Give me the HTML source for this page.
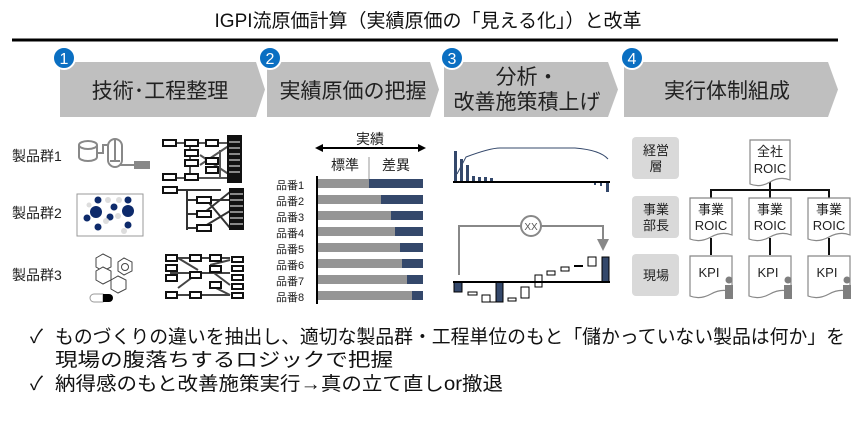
<!DOCTYPE html>
<html><head><meta charset="utf-8"><style>
html,body{margin:0;padding:0;background:#fff;}
svg{display:block;}
text{font-family:"Liberation Sans","Noto Sans CJK JP",sans-serif;}
</style></head><body>
<svg width="861" height="422" viewBox="0 0 861 422" xmlns="http://www.w3.org/2000/svg">
<text x="428" y="27" font-size="19" text-anchor="middle" fill="#111">IGPI流原価計算（実績原価の「見える化」）と改革</text>
<line x1="12" y1="40" x2="838" y2="40" stroke="#000" stroke-width="3"/>
<g fill="#bfbfbf">
<polygon points="60,62 256,62 265,89.5 256,117 60,117"/>
<polygon points="267,62 430,62 439,89.5 430,117 267,117"/>
<polygon points="444,62 608,62 618,89.5 608,117 444,117"/>
<polygon points="624,62 828,62 838,89.5 828,117 624,117"/>
</g>
<g fill="#0a6fc2" stroke="#fff" stroke-width="2">
<circle cx="64" cy="58" r="11"/><circle cx="270" cy="58" r="11"/><circle cx="452" cy="58" r="11"/><circle cx="632" cy="58" r="11"/>
</g>
<g fill="#fff" font-size="16" text-anchor="middle">
<text x="64" y="64">1</text><text x="270" y="64">2</text><text x="452" y="64">3</text><text x="632" y="64">4</text>
</g>
<g fill="#222" font-size="21" text-anchor="middle">
<text x="160" y="98">技術･工程整理</text>
<text x="353" y="98">実績原価の把握</text>
<text x="527" y="84">分析・</text>
<text x="527" y="109">改善施策積上げ</text>
<text x="727" y="98">実行体制組成</text>
</g>
<g font-size="14" fill="#222">
<text x="12" y="161">製品群1</text><text x="12" y="218">製品群2</text><text x="12" y="280">製品群3</text>
</g>
<g stroke="#888" stroke-width="2" fill="none">
<ellipse cx="88" cy="145" rx="9" ry="4"/><path d="M79 145v12a9 4 0 0 0 18 0v-12"/>
<path d="M97 153h6v-8h5"/><rect x="108" y="139" width="14" height="28" rx="7"/><line x1="115" y1="139" x2="115" y2="161"/><path d="M110 161h10"/>
<path d="M120 165h14"/></g>
<rect x="134" y="161" width="16" height="8" fill="#888"/>
<g stroke="#555" stroke-width="2" fill="none"><path d="M173 143h60M190 143v35M173 178h60M200 155l30 20M200 165l30-20M220 150v28"/></g>
<g stroke="#111" stroke-width="2" fill="#fff">
<rect x="163" y="140" width="13" height="6"/><rect x="185" y="140" width="13" height="6"/><rect x="206" y="140" width="12" height="6"/>
<rect x="185" y="150" width="13" height="6"/><rect x="185" y="160" width="13" height="6"/><rect x="206" y="158" width="12" height="6"/><rect x="206" y="167" width="12" height="6"/>
<rect x="163" y="174" width="13" height="6"/><rect x="185" y="174" width="13" height="6"/>
<rect x="228" y="136" width="13" height="46" fill="#111"/>
</g>
<g stroke="#fff" stroke-width="1"><path d="M229 142h11M229 148h11M229 154h11M229 160h11M229 166h11M229 172h11"/></g>
<rect x="77" y="194" width="66" height="42" fill="none" stroke="#999" stroke-width="1"/>
<g fill="#0d2a6b"><circle cx="98" cy="200" r="3.5"/><circle cx="96" cy="212" r="6"/><circle cx="87" cy="218" r="3.5"/><circle cx="114" cy="207" r="3.5"/><circle cx="128" cy="200" r="3.5"/><circle cx="128" cy="211" r="6"/><circle cx="110" cy="217" r="3.5"/><circle cx="98" cy="227" r="3.5"/><circle cx="128" cy="225" r="3.5"/></g>
<g fill="#ddd"><circle cx="108" cy="200" r="3"/><circle cx="119" cy="200" r="3"/><circle cx="89" cy="205" r="2.5"/><circle cx="106" cy="221" r="3"/><circle cx="118" cy="216" r="3"/><circle cx="124" cy="231" r="3"/></g>
<g stroke="#333" stroke-width="2" fill="none"><path d="M173 190h48M187 190v40M187 200h10M187 214h10M187 228h10M205 198l25 30M205 212l25-20M205 226l25-15M205 200h25"/></g>
<g stroke="#111" stroke-width="2" fill="#fff"><rect x="163" y="187" width="14" height="6"/><rect x="197" y="197" width="14" height="6"/><rect x="197" y="211" width="14" height="6"/><rect x="197" y="225" width="14" height="6"/></g>
<rect x="229" y="188" width="15" height="42" fill="#111"/>
<g stroke="#fff"><path d="M230 194h13M230 200h13M230 206h13M230 212h13M230 218h13M230 224h13"/></g>
<g stroke="#444" stroke-width="1" fill="#fff">
<polygon points="96,258 103,254 111,258 111,267 103,271 96,267"/>
<polygon points="96,271 103,267 111,271 111,280 103,284 96,280"/>
<polygon points="111,280 118,276 126,280 126,289 118,293 111,289"/>
<polygon points="118,262 124,258 132,262 132,271 124,275 118,271"/><circle cx="125" cy="267" r="3.5"/>
</g>
<path d="M103 294h-9a4 4 0 0 0 0 8h9z" fill="#fff" stroke="#999"/><path d="M103 294h6a4 4 0 0 1 0 8h-6z" fill="#000"/>
<g stroke="#444" stroke-width="2" fill="none"><path d="M170 258h60M170 273h60M170 295h60M178 258l20 12M178 288l20-15M210 265l20-5M210 285l20 10M210 270l20 15"/></g>
<g stroke="#111" stroke-width="2" fill="#fff">
<rect x="166" y="255" width="11" height="6"/><rect x="166" y="265" width="11" height="6"/><rect x="166" y="275" width="11" height="6"/><rect x="166" y="292" width="11" height="6"/>
<rect x="190" y="255" width="11" height="6"/><rect x="190" y="272" width="11" height="6"/><rect x="190" y="292" width="11" height="6"/>
<rect x="210" y="255" width="11" height="6"/><rect x="210" y="266" width="11" height="6"/><rect x="210" y="282" width="11" height="6"/>
<rect x="232" y="257" width="11" height="5"/><rect x="232" y="266" width="11" height="5"/><rect x="232" y="275" width="11" height="5"/><rect x="232" y="284" width="11" height="5"/><rect x="232" y="293" width="11" height="5"/>
</g>
<text x="370" y="144" font-size="14" text-anchor="middle" fill="#222">実績</text>
<line x1="320" y1="148" x2="421" y2="148" stroke="#000" stroke-width="2"/>
<polygon points="315,148 323,144 323,152"/><polygon points="426,148 418,144 418,152"/>
<text x="345" y="170" font-size="14" text-anchor="middle" fill="#222">標準</text>
<text x="396" y="170" font-size="14" text-anchor="middle" fill="#222">差異</text>
<line x1="369" y1="157" x2="369" y2="188" stroke="#ccc" stroke-width="2"/>
<line x1="317" y1="176" x2="317" y2="304" stroke="#000" stroke-width="2"/>
<g font-size="11" fill="#222">
<text x="276" y="189">品番1</text><text x="276" y="205">品番2</text><text x="276" y="221">品番3</text><text x="276" y="237">品番4</text><text x="276" y="253">品番5</text><text x="276" y="269">品番6</text><text x="276" y="285">品番7</text><text x="276" y="301">品番8</text>
</g>
<g fill="#34486b">
<rect x="318" y="179" width="105" height="9"/><rect x="318" y="195" width="105" height="9"/><rect x="318" y="211" width="105" height="9"/><rect x="318" y="227" width="105" height="9"/><rect x="318" y="243" width="105" height="9"/><rect x="318" y="259" width="105" height="9"/><rect x="318" y="275" width="105" height="9"/><rect x="318" y="291" width="105" height="9"/>
</g>
<g fill="#959595">
<rect x="318" y="179" width="51" height="9"/><rect x="318" y="195" width="63" height="9"/><rect x="318" y="211" width="73" height="9"/><rect x="318" y="227" width="77" height="9"/><rect x="318" y="243" width="82" height="9"/><rect x="318" y="259" width="84" height="9"/><rect x="318" y="275" width="89" height="9"/><rect x="318" y="291" width="94" height="9"/>
</g>
<g fill="#34486b"><rect x="454" y="151" width="3" height="31"/><rect x="460" y="159" width="3" height="23"/><rect x="466" y="165" width="3" height="17"/><rect x="472" y="176" width="3" height="6"/><rect x="478" y="177" width="3" height="5"/><rect x="484" y="177" width="3" height="5"/><rect x="490" y="178" width="3" height="4"/><rect x="594" y="182" width="2" height="3"/><rect x="600" y="182" width="2" height="4"/><rect x="606" y="182" width="3" height="10"/></g>
<path d="M457 174 L466 157 Q490 148 500 148 L575 148 Q600 150 608 159" fill="none" stroke="#34486b" stroke-width="1"/>
<line x1="453" y1="182" x2="610" y2="182" stroke="#000" stroke-width="2"/>
<path d="M459 275V226h63M540 226h63v14" fill="none" stroke="#888" stroke-width="2"/>
<polygon points="597,239 609,239 603,251" fill="#888"/>
<circle cx="531" cy="226" r="10" fill="#fff" stroke="#888" stroke-width="2"/>
<text x="531" y="230" font-size="10" text-anchor="middle" fill="#555">XX</text>
<g fill="#fff" stroke="#000" stroke-width="1">
<rect x="468" y="292" width="9" height="3"/><rect x="482" y="295" width="8" height="7"/><path d="M490 302h6" fill="none"/>
<rect x="508" y="298" width="8" height="3"/><rect x="521" y="287" width="8" height="11"/><rect x="535" y="275" width="7" height="12"/>
<rect x="547" y="271" width="8" height="4"/><rect x="561" y="267" width="8" height="4"/><rect x="588" y="257" width="8" height="9"/>
</g>
<rect x="574" y="265" width="9" height="2" fill="#000"/>
<g fill="#34486b" stroke="#000" stroke-width="1"><rect x="454" y="282" width="8" height="10"/><rect x="496" y="282" width="7" height="20"/><rect x="602" y="257" width="7" height="25"/></g>
<line x1="453" y1="282" x2="610" y2="282" stroke="#000" stroke-width="2"/>
<g fill="#d9d9d9"><rect x="632" y="137" width="47" height="42" rx="4"/><rect x="632" y="196" width="47" height="42" rx="4"/><rect x="632" y="254" width="47" height="42" rx="4"/></g>
<g font-size="13" fill="#222" text-anchor="middle">
<text x="656" y="155">経営</text><text x="656" y="171">層</text>
<text x="656" y="214">事業</text><text x="656" y="230">部長</text>
<text x="656" y="280">現場</text>
</g>
<path d="M770 182V190M711 198V190H829V198M770 190V198M711 238V255M770 238V255M829 238V255" stroke="#111" stroke-width="2" fill="none"/>
<g fill="#fff" stroke="#888" stroke-width="1.2">
<path d="M750 140h40v40q-10 -4 -20 2t-20 2z"/>
<path d="M690 198h42v37q-10 -4 -21 2t-21 2z"/>
<path d="M749 198h42v37q-10 -4 -21 2t-21 2z"/>
<path d="M808 198h42v37q-10 -4 -21 2t-21 2z"/>
<path d="M690 256h42v36q-10 -4 -21 2t-21 2z"/>
<path d="M749 256h42v36q-10 -4 -21 2t-21 2z"/>
<path d="M808 256h42v36q-10 -4 -21 2t-21 2z"/>
</g>
<g font-size="13" fill="#222" text-anchor="middle">
<text x="770" y="156">全社</text><text x="770" y="173">ROIC</text>
<text x="711" y="214">事業</text><text x="711" y="230">ROIC</text>
<text x="770" y="214">事業</text><text x="770" y="230">ROIC</text>
<text x="829" y="214">事業</text><text x="829" y="230">ROIC</text>
<text x="709" y="277">KPI</text><text x="768" y="277">KPI</text><text x="827" y="277">KPI</text>
</g>
<g fill="#7f7f7f">
<circle cx="729" cy="280" r="3.5"/><rect x="725" y="285" width="8" height="14"/>
<circle cx="788" cy="280" r="3.5"/><rect x="784" y="285" width="8" height="14"/>
<circle cx="847" cy="280" r="3.5"/><rect x="843" y="285" width="8" height="14"/>
</g>
<g font-size="19" fill="#111">
<text x="30" y="343">✓</text>
<text x="55" y="343" textLength="790" lengthAdjust="spacingAndGlyphs">ものづくりの違いを抽出し、適切な製品群・工程単位のもと「儲かっていない製品は何か」を</text>
<text x="55" y="366" textLength="338" lengthAdjust="spacingAndGlyphs">現場の腹落ちするロジックで把握</text>
<text x="30" y="390">✓</text>
<text x="55" y="390" textLength="448" lengthAdjust="spacingAndGlyphs">納得感のもと改善施策実行→真の立て直しor撤退</text>
</g>
</svg>
</body></html>
